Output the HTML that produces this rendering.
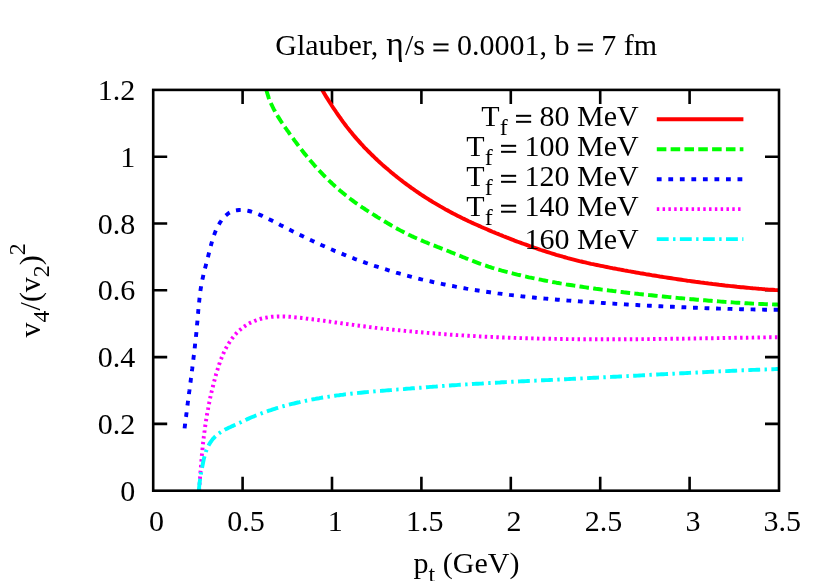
<!DOCTYPE html>
<html><head><meta charset="utf-8"><title>plot</title>
<style>html,body{margin:0;padding:0;background:#fff;overflow:hidden}body{width:830px;height:581px;position:relative;font-family:"Liberation Serif",serif}</style></head>
<body>
<svg width="830" height="581" viewBox="0 0 830 581" style="position:absolute;left:0;top:0;will-change:transform;font-family:'Liberation Serif',serif;font-size:30px">
<rect x="0" y="0" width="830" height="581" fill="#fff"/>
<g stroke="#000" stroke-width="2.6" fill="none" stroke-linecap="butt">
<path d="M242.6,490.7 V476.7 M242.6,89.9 V103.9"/>
<path d="M332.0,490.7 V476.7 M332.0,89.9 V103.9"/>
<path d="M421.4,490.7 V476.7 M421.4,89.9 V103.9"/>
<path d="M510.8,490.7 V476.7 M510.8,89.9 V103.9"/>
<path d="M600.2,490.7 V476.7 M600.2,89.9 V103.9"/>
<path d="M689.6,490.7 V476.7 M689.6,89.9 V103.9"/>
<path d="M153.2,423.9 H167.2 M779.0,423.9 H765.0"/>
<path d="M153.2,357.1 H167.2 M779.0,357.1 H765.0"/>
<path d="M153.2,290.3 H167.2 M779.0,290.3 H765.0"/>
<path d="M153.2,223.5 H167.2 M779.0,223.5 H765.0"/>
<path d="M153.2,156.7 H167.2 M779.0,156.7 H765.0"/>
</g>
<clipPath id="c"><rect x="153.2" y="89.9" width="625.8" height="400.79999999999995"/></clipPath>
<g fill="none" stroke-width="3.90" stroke-linejoin="round" clip-path="url(#c)">
<path d="M322.3,90.0 L323.3,91.7 L324.3,93.5 L325.3,95.2 L326.3,96.9 L327.4,98.6 L328.4,100.3 L329.5,102.0 L330.6,103.6 L331.6,105.3 L332.7,107.0 L333.8,108.7 L335.0,110.3 L336.1,112.0 L337.2,113.6 L338.4,115.3 L339.5,116.9 L340.7,118.5 L341.8,120.2 L343.0,121.8 L344.2,123.4 L345.4,125.0 L346.6,126.6 L347.8,128.1 L349.1,129.7 L350.3,131.3 L351.6,132.8 L352.9,134.4 L354.1,135.9 L355.4,137.4 L356.7,138.9 L358.1,140.4 L359.4,141.9 L360.7,143.4 L362.1,144.8 L363.4,146.3 L364.8,147.8 L366.2,149.2 L367.6,150.6 L369.0,152.0 L370.4,153.4 L371.8,154.8 L373.3,156.2 L374.7,157.6 L376.2,159.0 L377.6,160.4 L379.1,161.7 L380.6,163.1 L382.0,164.4 L383.5,165.7 L385.0,167.0 L386.5,168.3 L388.1,169.6 L389.6,170.9 L391.1,172.2 L392.7,173.5 L394.2,174.8 L395.8,176.0 L397.3,177.3 L398.9,178.5 L400.5,179.7 L402.1,180.9 L403.7,182.2 L405.3,183.4 L406.9,184.6 L408.5,185.7 L410.1,186.9 L411.7,188.1 L413.4,189.2 L415.0,190.4 L416.6,191.5 L418.3,192.6 L420.0,193.8 L421.6,194.9 L423.3,196.0 L425.0,197.1 L426.6,198.1 L428.3,199.2 L430.0,200.3 L431.7,201.3 L433.4,202.4 L435.2,203.4 L436.9,204.4 L438.6,205.4 L440.3,206.4 L442.1,207.4 L443.8,208.4 L445.5,209.4 L447.3,210.3 L449.0,211.3 L450.8,212.2 L452.6,213.2 L454.3,214.1 L456.1,215.0 L457.9,215.9 L459.7,216.8 L461.5,217.7 L463.2,218.6 L465.0,219.4 L466.8,220.3 L468.6,221.2 L470.5,222.0 L472.3,222.9 L474.1,223.7 L475.9,224.5 L477.7,225.3 L479.5,226.1 L481.4,227.0 L483.2,227.8 L485.0,228.5 L486.9,229.3 L488.7,230.1 L490.5,230.9 L492.4,231.7 L494.2,232.4 L496.1,233.2 L497.9,233.9 L499.8,234.7 L501.6,235.4 L503.5,236.2 L505.3,236.9 L507.2,237.7 L509.1,238.4 L510.9,239.1 L512.8,239.8 L514.6,240.6 L516.5,241.3 L518.4,242.0 L520.3,242.7 L522.1,243.4 L524.0,244.0 L525.9,244.7 L527.8,245.4 L529.7,246.1 L531.5,246.7 L533.4,247.4 L535.3,248.0 L537.2,248.7 L539.1,249.3 L541.0,250.0 L542.9,250.6 L544.8,251.2 L546.7,251.8 L548.6,252.4 L550.5,253.0 L552.4,253.6 L554.3,254.2 L556.2,254.8 L558.2,255.3 L560.1,255.9 L562.0,256.4 L563.9,257.0 L565.8,257.5 L567.8,258.1 L569.7,258.6 L571.6,259.1 L573.6,259.6 L575.5,260.1 L577.4,260.6 L579.4,261.1 L581.3,261.5 L583.2,262.0 L585.2,262.4 L587.1,262.9 L589.1,263.3 L591.0,263.8 L593.0,264.2 L594.9,264.6 L596.9,265.0 L598.8,265.4 L600.8,265.8 L602.8,266.2 L604.7,266.6 L606.7,267.0 L608.6,267.4 L610.6,267.8 L612.6,268.2 L614.5,268.5 L616.5,268.9 L618.4,269.3 L620.4,269.6 L622.4,270.0 L624.3,270.4 L626.3,270.7 L628.3,271.1 L630.2,271.4 L632.2,271.8 L634.2,272.1 L636.1,272.5 L638.1,272.8 L640.1,273.2 L642.1,273.5 L644.0,273.8 L646.0,274.2 L648.0,274.5 L649.9,274.8 L651.9,275.2 L653.9,275.5 L655.8,275.8 L657.8,276.1 L659.8,276.5 L661.8,276.8 L663.7,277.1 L665.7,277.4 L667.7,277.7 L669.7,278.0 L671.6,278.3 L673.6,278.6 L675.6,278.9 L677.6,279.2 L679.5,279.5 L681.5,279.8 L683.5,280.1 L685.5,280.4 L687.4,280.7 L689.4,280.9 L691.4,281.2 L693.4,281.5 L695.4,281.8 L697.3,282.0 L699.3,282.3 L701.3,282.6 L703.3,282.8 L705.3,283.1 L707.2,283.3 L709.2,283.6 L711.2,283.8 L713.2,284.1 L715.2,284.3 L717.1,284.5 L719.1,284.8 L721.1,285.0 L723.1,285.2 L725.1,285.5 L727.1,285.7 L729.0,285.9 L731.0,286.1 L733.0,286.3 L735.0,286.5 L737.0,286.8 L739.0,287.0 L741.0,287.2 L743.0,287.3 L744.9,287.5 L746.9,287.7 L748.9,287.9 L750.9,288.1 L752.9,288.3 L754.9,288.4 L756.9,288.6 L758.9,288.8 L760.9,288.9 L762.9,289.1 L764.8,289.3 L766.8,289.4 L768.8,289.6 L770.8,289.7 L772.8,289.8 L774.8,290.0 L776.8,290.1 L778.8,290.2" stroke="#ff0000"/>
<path d="M266.4,90.0 L266.9,92.0 L267.5,94.0 L268.1,95.9 L268.7,97.8 L269.4,99.7 L270.2,101.5 L271.0,103.4 L271.8,105.2 L272.7,107.0 L273.6,108.8 L274.5,110.5 L275.4,112.2 L276.4,114.0 L277.5,115.7 L278.5,117.4 L279.6,119.1 L280.6,120.7 L281.7,122.4 L282.9,124.0 L284.0,125.7 L285.1,127.3 L286.3,129.0 L287.4,130.6 L288.6,132.2 L289.7,133.9 L290.9,135.5 L292.1,137.1 L293.3,138.7 L294.4,140.3 L295.6,141.9 L296.8,143.5 L298.0,145.1 L299.2,146.7 L300.4,148.3 L301.7,149.9 L302.9,151.5 L304.1,153.1 L305.4,154.6 L306.7,156.2 L307.9,157.7 L309.2,159.2 L310.5,160.8 L311.8,162.3 L313.1,163.8 L314.4,165.3 L315.8,166.8 L317.1,168.3 L318.4,169.7 L319.8,171.2 L321.2,172.6 L322.6,174.1 L323.9,175.5 L325.3,176.9 L326.8,178.3 L328.2,179.7 L329.6,181.1 L331.1,182.5 L332.5,183.9 L334.0,185.2 L335.4,186.6 L336.9,187.9 L338.4,189.2 L339.9,190.5 L341.5,191.8 L343.0,193.1 L344.5,194.3 L346.1,195.6 L347.7,196.8 L349.2,198.0 L350.8,199.2 L352.4,200.4 L354.0,201.6 L355.7,202.8 L357.3,203.9 L358.9,205.1 L360.6,206.2 L362.2,207.3 L363.9,208.4 L365.6,209.6 L367.2,210.6 L368.9,211.7 L370.6,212.8 L372.3,213.9 L374.0,214.9 L375.7,216.0 L377.4,217.1 L379.1,218.1 L380.8,219.1 L382.5,220.2 L384.3,221.2 L386.0,222.2 L387.7,223.3 L389.4,224.3 L391.1,225.3 L392.9,226.3 L394.6,227.3 L396.3,228.2 L398.1,229.2 L399.8,230.1 L401.6,231.1 L403.4,232.0 L405.1,232.9 L406.9,233.8 L408.7,234.7 L410.5,235.5 L412.3,236.4 L414.1,237.2 L415.9,238.0 L417.8,238.8 L419.6,239.6 L421.4,240.4 L423.3,241.2 L425.1,242.0 L427.0,242.7 L428.8,243.5 L430.7,244.2 L432.5,245.0 L434.4,245.7 L436.2,246.4 L438.1,247.2 L440.0,247.9 L441.8,248.6 L443.7,249.3 L445.6,250.1 L447.4,250.8 L449.3,251.5 L451.1,252.3 L453.0,253.0 L454.8,253.8 L456.7,254.5 L458.6,255.3 L460.4,256.0 L462.2,256.8 L464.1,257.5 L465.9,258.3 L467.8,259.0 L469.6,259.8 L471.5,260.5 L473.4,261.2 L475.2,261.9 L477.1,262.6 L479.0,263.3 L480.8,264.0 L482.7,264.7 L484.6,265.3 L486.5,265.9 L488.4,266.6 L490.3,267.2 L492.2,267.8 L494.1,268.3 L496.0,268.9 L497.9,269.5 L499.9,270.0 L501.8,270.6 L503.7,271.1 L505.6,271.6 L507.6,272.1 L509.5,272.6 L511.4,273.1 L513.4,273.6 L515.3,274.1 L517.3,274.6 L519.2,275.0 L521.1,275.5 L523.1,276.0 L525.0,276.4 L527.0,276.8 L528.9,277.3 L530.9,277.7 L532.8,278.1 L534.8,278.5 L536.8,278.9 L538.7,279.3 L540.7,279.7 L542.6,280.1 L544.6,280.5 L546.6,280.9 L548.5,281.3 L550.5,281.6 L552.4,282.0 L554.4,282.3 L556.4,282.7 L558.3,283.0 L560.3,283.4 L562.3,283.7 L564.2,284.0 L566.2,284.4 L568.2,284.7 L570.2,285.0 L572.1,285.3 L574.1,285.6 L576.1,285.9 L578.0,286.2 L580.0,286.5 L582.0,286.8 L584.0,287.1 L585.9,287.4 L587.9,287.7 L589.9,287.9 L591.9,288.2 L593.9,288.5 L595.8,288.8 L597.8,289.0 L599.8,289.3 L601.8,289.6 L603.8,289.8 L605.7,290.1 L607.7,290.3 L609.7,290.6 L611.7,290.8 L613.7,291.1 L615.6,291.3 L617.6,291.6 L619.6,291.8 L621.6,292.0 L623.6,292.3 L625.6,292.5 L627.5,292.7 L629.5,293.0 L631.5,293.2 L633.5,293.4 L635.5,293.6 L637.5,293.8 L639.4,294.1 L641.4,294.3 L643.4,294.5 L645.4,294.7 L647.4,294.9 L649.4,295.1 L651.4,295.3 L653.3,295.5 L655.3,295.7 L657.3,295.9 L659.3,296.1 L661.3,296.3 L663.3,296.5 L665.3,296.7 L667.3,296.9 L669.2,297.1 L671.2,297.3 L673.2,297.5 L675.2,297.7 L677.2,297.9 L679.2,298.1 L681.2,298.2 L683.2,298.4 L685.2,298.6 L687.1,298.8 L689.1,299.0 L691.1,299.2 L693.1,299.3 L695.1,299.5 L697.1,299.7 L699.1,299.8 L701.1,300.0 L703.1,300.2 L705.0,300.3 L707.0,300.5 L709.0,300.7 L711.0,300.8 L713.0,301.0 L715.0,301.1 L717.0,301.3 L719.0,301.4 L721.0,301.6 L723.0,301.7 L724.9,301.9 L726.9,302.0 L728.9,302.2 L730.9,302.3 L732.9,302.4 L734.9,302.6 L736.9,302.7 L738.9,302.8 L740.9,302.9 L742.9,303.0 L744.9,303.2 L746.9,303.3 L748.9,303.4 L750.9,303.5 L752.8,303.6 L754.8,303.7 L756.8,303.8 L758.8,303.9 L760.8,304.0 L762.8,304.0 L764.8,304.1 L766.8,304.2 L768.8,304.3 L770.8,304.3 L772.8,304.4 L774.8,304.5 L776.8,304.5 L778.8,304.6" stroke="#00ff00" stroke-dasharray="9.56 4.265"/>
<path d="M184.6,428.4 L184.8,426.4 L185.1,424.4 L185.3,422.5 L185.6,420.5 L185.8,418.5 L186.1,416.5 L186.3,414.5 L186.6,412.5 L186.8,410.6 L187.1,408.6 L187.3,406.6 L187.6,404.6 L187.8,402.6 L188.1,400.7 L188.4,398.7 L188.6,396.7 L188.9,394.7 L189.1,392.7 L189.4,390.8 L189.6,388.8 L189.9,386.8 L190.2,384.8 L190.4,382.8 L190.7,380.9 L190.9,378.9 L191.2,376.9 L191.4,374.9 L191.7,372.9 L191.9,371.0 L192.2,369.0 L192.4,367.0 L192.7,365.0 L192.9,363.0 L193.2,361.1 L193.4,359.1 L193.6,357.1 L193.9,355.1 L194.1,353.1 L194.3,351.1 L194.6,349.2 L194.8,347.2 L195.0,345.2 L195.2,343.2 L195.4,341.2 L195.6,339.2 L195.9,337.2 L196.1,335.3 L196.3,333.3 L196.5,331.3 L196.7,329.3 L196.9,327.3 L197.0,325.3 L197.2,323.3 L197.4,321.3 L197.6,319.3 L197.7,317.4 L197.9,315.4 L198.1,313.4 L198.2,311.4 L198.4,309.4 L198.6,307.4 L198.8,305.4 L199.0,303.4 L199.2,301.4 L199.4,299.4 L199.6,297.5 L199.8,295.5 L200.1,293.5 L200.3,291.5 L200.6,289.5 L200.9,287.6 L201.2,285.6 L201.6,283.7 L202.0,281.7 L202.3,279.8 L202.8,277.8 L203.2,275.9 L203.6,273.9 L204.1,272.0 L204.6,270.0 L205.1,268.1 L205.6,266.2 L206.1,264.2 L206.6,262.3 L207.1,260.4 L207.6,258.4 L208.1,256.5 L208.6,254.5 L209.1,252.6 L209.6,250.6 L210.1,248.7 L210.6,246.8 L211.1,244.8 L211.6,242.9 L212.2,241.0 L212.7,239.1 L213.4,237.2 L214.0,235.3 L214.7,233.4 L215.4,231.6 L216.2,229.7 L217.0,227.9 L217.9,226.1 L218.9,224.4 L219.9,222.7 L221.1,221.0 L222.2,219.3 L223.5,217.7 L224.9,216.2 L226.4,214.9 L227.9,213.7 L229.6,212.6 L231.4,211.8 L233.3,211.1 L235.2,210.5 L237.1,210.2 L239.1,210.0 L241.1,209.9 L243.0,210.0 L245.0,210.2 L247.0,210.6 L248.9,211.0 L250.9,211.5 L252.8,212.1 L254.7,212.8 L256.6,213.5 L258.5,214.3 L260.4,215.1 L262.3,215.9 L264.1,216.8 L265.9,217.6 L267.7,218.5 L269.5,219.4 L271.3,220.3 L273.1,221.2 L274.8,222.1 L276.6,223.0 L278.4,223.9 L280.1,224.9 L281.9,225.8 L283.6,226.7 L285.4,227.6 L287.2,228.5 L288.9,229.4 L290.7,230.3 L292.5,231.2 L294.3,232.1 L296.1,233.0 L297.8,233.9 L299.6,234.8 L301.4,235.6 L303.2,236.5 L305.0,237.4 L306.8,238.2 L308.6,239.1 L310.4,239.9 L312.2,240.8 L314.0,241.6 L315.8,242.5 L317.7,243.3 L319.5,244.1 L321.3,245.0 L323.1,245.8 L324.9,246.6 L326.8,247.4 L328.6,248.2 L330.4,249.0 L332.3,249.8 L334.1,250.6 L336.0,251.3 L337.8,252.1 L339.7,252.9 L341.5,253.6 L343.4,254.4 L345.2,255.1 L347.1,255.9 L348.9,256.6 L350.8,257.3 L352.7,258.0 L354.5,258.8 L356.4,259.5 L358.3,260.2 L360.1,260.8 L362.0,261.5 L363.9,262.2 L365.8,262.9 L367.7,263.5 L369.6,264.2 L371.4,264.8 L373.3,265.5 L375.2,266.1 L377.1,266.7 L379.0,267.3 L380.9,267.9 L382.8,268.6 L384.7,269.1 L386.6,269.7 L388.6,270.3 L390.5,270.9 L392.4,271.5 L394.3,272.0 L396.2,272.6 L398.1,273.1 L400.1,273.7 L402.0,274.2 L403.9,274.8 L405.8,275.3 L407.8,275.8 L409.7,276.3 L411.6,276.8 L413.5,277.3 L415.5,277.8 L417.4,278.3 L419.4,278.8 L421.3,279.3 L423.2,279.7 L425.2,280.2 L427.1,280.6 L429.1,281.1 L431.0,281.5 L433.0,282.0 L434.9,282.4 L436.9,282.8 L438.8,283.3 L440.8,283.7 L442.7,284.1 L444.7,284.5 L446.6,284.9 L448.6,285.3 L450.6,285.7 L452.5,286.0 L454.5,286.4 L456.4,286.8 L458.4,287.2 L460.4,287.5 L462.3,287.9 L464.3,288.2 L466.3,288.6 L468.2,288.9 L470.2,289.2 L472.2,289.6 L474.1,289.9 L476.1,290.2 L478.1,290.5 L480.0,290.8 L482.0,291.1 L484.0,291.4 L486.0,291.7 L487.9,292.0 L489.9,292.3 L491.9,292.6 L493.9,292.8 L495.9,293.1 L497.8,293.4 L499.8,293.6 L501.8,293.9 L503.8,294.2 L505.8,294.4 L507.7,294.6 L509.7,294.9 L511.7,295.1 L513.7,295.4 L515.7,295.6 L517.6,295.8 L519.6,296.0 L521.6,296.3 L523.6,296.5 L525.6,296.7 L527.6,296.9 L529.6,297.1 L531.5,297.3 L533.5,297.5 L535.5,297.7 L537.5,297.9 L539.5,298.1 L541.5,298.3 L543.5,298.5 L545.5,298.6 L547.5,298.8 L549.4,299.0 L551.4,299.2 L553.4,299.3 L555.4,299.5 L557.4,299.7 L559.4,299.8 L561.4,300.0 L563.4,300.2 L565.4,300.3 L567.4,300.5 L569.4,300.6 L571.4,300.8 L573.3,300.9 L575.3,301.1 L577.3,301.2 L579.3,301.4 L581.3,301.5 L583.3,301.7 L585.3,301.8 L587.3,301.9 L589.3,302.1 L591.3,302.2 L593.3,302.3 L595.3,302.5 L597.3,302.6 L599.3,302.7 L601.2,302.9 L603.2,303.0 L605.2,303.1 L607.2,303.3 L609.2,303.4 L611.2,303.5 L613.2,303.6 L615.2,303.8 L617.2,303.9 L619.2,304.0 L621.2,304.1 L623.2,304.2 L625.2,304.4 L627.2,304.5 L629.2,304.6 L631.1,304.7 L633.1,304.8 L635.1,304.9 L637.1,305.0 L639.1,305.2 L641.1,305.3 L643.1,305.4 L645.1,305.5 L647.1,305.6 L649.1,305.7 L651.1,305.8 L653.1,305.9 L655.1,306.0 L657.1,306.1 L659.1,306.2 L661.0,306.3 L663.0,306.4 L665.0,306.5 L667.0,306.6 L669.0,306.7 L671.0,306.7 L673.0,306.8 L675.0,306.9 L677.0,307.0 L679.0,307.1 L681.0,307.2 L683.0,307.3 L685.0,307.3 L687.0,307.4 L689.0,307.5 L691.0,307.6 L693.0,307.7 L694.9,307.7 L696.9,307.8 L698.9,307.9 L700.9,308.0 L702.9,308.0 L704.9,308.1 L706.9,308.2 L708.9,308.2 L710.9,308.3 L712.9,308.4 L714.9,308.4 L716.9,308.5 L718.9,308.6 L720.9,308.6 L722.9,308.7 L724.9,308.7 L726.9,308.8 L728.9,308.9 L730.9,308.9 L732.9,309.0 L734.9,309.0 L736.9,309.1 L738.9,309.1 L740.8,309.2 L742.8,309.2 L744.8,309.3 L746.8,309.3 L748.8,309.4 L750.8,309.4 L752.8,309.4 L754.8,309.5 L756.8,309.5 L758.8,309.6 L760.8,309.6 L762.8,309.6 L764.8,309.7 L766.8,309.7 L768.8,309.7 L770.8,309.8 L772.8,309.8 L774.8,309.8 L776.8,309.8 L778.8,309.9" stroke="#0000ff" stroke-dasharray="4.8 6.73"/>
<path d="M199.1,490.6 L199.2,488.6 L199.4,486.6 L199.5,484.6 L199.7,482.6 L199.8,480.6 L200.0,478.6 L200.1,476.6 L200.3,474.7 L200.4,472.7 L200.6,470.7 L200.7,468.7 L200.9,466.7 L201.1,464.7 L201.2,462.7 L201.4,460.7 L201.6,458.7 L201.7,456.7 L201.9,454.7 L202.1,452.7 L202.3,450.7 L202.5,448.7 L202.7,446.7 L202.9,444.7 L203.1,442.8 L203.4,440.8 L203.6,438.8 L203.8,436.8 L204.1,434.8 L204.3,432.8 L204.6,430.8 L204.8,428.9 L205.1,426.9 L205.4,424.9 L205.7,422.9 L206.0,420.9 L206.3,419.0 L206.6,417.0 L206.9,415.0 L207.3,413.1 L207.6,411.1 L208.0,409.1 L208.3,407.2 L208.7,405.2 L209.1,403.3 L209.5,401.3 L209.9,399.4 L210.3,397.4 L210.7,395.5 L211.2,393.5 L211.6,391.6 L212.1,389.6 L212.6,387.7 L213.1,385.8 L213.5,383.8 L214.0,381.9 L214.6,379.9 L215.1,378.0 L215.6,376.1 L216.1,374.1 L216.7,372.2 L217.3,370.3 L217.9,368.3 L218.5,366.4 L219.1,364.5 L219.8,362.6 L220.4,360.7 L221.2,358.8 L221.9,357.0 L222.7,355.1 L223.5,353.3 L224.3,351.4 L225.2,349.6 L226.1,347.9 L227.1,346.1 L228.1,344.4 L229.2,342.7 L230.3,341.0 L231.5,339.3 L232.7,337.7 L233.9,336.2 L235.2,334.6 L236.5,333.2 L237.9,331.8 L239.4,330.4 L240.9,329.1 L242.4,327.8 L244.0,326.7 L245.6,325.6 L247.3,324.5 L249.0,323.5 L250.8,322.6 L252.6,321.8 L254.4,321.0 L256.3,320.3 L258.1,319.6 L260.0,319.0 L261.9,318.5 L263.9,318.0 L265.8,317.7 L267.8,317.3 L269.7,317.1 L271.7,316.8 L273.7,316.7 L275.7,316.6 L277.7,316.5 L279.7,316.5 L281.7,316.5 L283.7,316.5 L285.8,316.6 L287.8,316.7 L289.8,316.8 L291.8,317.0 L293.9,317.2 L295.9,317.4 L297.9,317.6 L299.9,317.8 L301.9,318.0 L304.0,318.2 L306.0,318.5 L308.0,318.7 L310.0,319.0 L312.0,319.2 L313.9,319.5 L315.9,319.7 L317.9,320.0 L319.9,320.3 L321.9,320.5 L323.9,320.8 L325.9,321.1 L327.8,321.4 L329.8,321.6 L331.8,321.9 L333.8,322.2 L335.7,322.5 L337.7,322.8 L339.7,323.0 L341.6,323.3 L343.6,323.6 L345.6,323.9 L347.6,324.1 L349.5,324.4 L351.5,324.7 L353.5,324.9 L355.5,325.2 L357.4,325.5 L359.4,325.7 L361.4,326.0 L363.4,326.2 L365.3,326.5 L367.3,326.7 L369.3,327.0 L371.3,327.2 L373.3,327.4 L375.2,327.7 L377.2,327.9 L379.2,328.1 L381.2,328.4 L383.2,328.6 L385.2,328.8 L387.2,329.0 L389.1,329.2 L391.1,329.5 L393.1,329.7 L395.1,329.9 L397.1,330.1 L399.1,330.3 L401.1,330.5 L403.1,330.7 L405.0,330.9 L407.0,331.1 L409.0,331.3 L411.0,331.4 L413.0,331.6 L415.0,331.8 L417.0,332.0 L419.0,332.2 L421.0,332.3 L423.0,332.5 L425.0,332.7 L427.0,332.9 L429.0,333.0 L431.0,333.2 L432.9,333.3 L434.9,333.5 L436.9,333.7 L438.9,333.8 L440.9,334.0 L442.9,334.1 L444.9,334.2 L446.9,334.4 L448.9,334.5 L450.9,334.7 L452.9,334.8 L454.9,334.9 L456.9,335.1 L458.9,335.2 L460.9,335.3 L462.9,335.4 L464.9,335.6 L466.9,335.7 L468.9,335.8 L470.9,335.9 L472.9,336.0 L474.9,336.1 L476.9,336.3 L478.9,336.4 L480.9,336.5 L482.9,336.6 L484.9,336.7 L486.9,336.8 L488.9,336.9 L490.9,336.9 L492.9,337.0 L494.9,337.1 L496.9,337.2 L498.9,337.3 L500.9,337.4 L502.9,337.5 L504.9,337.5 L506.9,337.6 L508.9,337.7 L510.9,337.8 L512.9,337.8 L514.9,337.9 L516.9,338.0 L518.9,338.0 L520.9,338.1 L522.8,338.2 L524.8,338.2 L526.8,338.3 L528.8,338.3 L530.8,338.4 L532.8,338.4 L534.8,338.5 L536.8,338.5 L538.8,338.6 L540.8,338.6 L542.8,338.7 L544.8,338.7 L546.8,338.7 L548.8,338.8 L550.8,338.8 L552.8,338.9 L554.8,338.9 L556.8,338.9 L558.8,339.0 L560.8,339.0 L562.8,339.0 L564.8,339.0 L566.8,339.1 L568.8,339.1 L570.8,339.1 L572.8,339.1 L574.8,339.2 L576.8,339.2 L578.8,339.2 L580.8,339.2 L582.8,339.2 L584.8,339.2 L586.8,339.2 L588.8,339.3 L590.8,339.3 L592.8,339.3 L594.8,339.3 L596.8,339.3 L598.8,339.3 L600.8,339.3 L602.8,339.3 L604.8,339.3 L606.8,339.3 L608.8,339.3 L610.8,339.3 L612.8,339.3 L614.8,339.3 L616.8,339.3 L618.8,339.3 L620.8,339.3 L622.8,339.3 L624.8,339.2 L626.8,339.2 L628.8,339.2 L630.8,339.2 L632.8,339.2 L634.8,339.2 L636.8,339.2 L638.8,339.2 L640.8,339.1 L642.8,339.1 L644.8,339.1 L646.8,339.1 L648.8,339.1 L650.8,339.1 L652.8,339.0 L654.8,339.0 L656.8,339.0 L658.8,339.0 L660.8,338.9 L662.8,338.9 L664.8,338.9 L666.8,338.9 L668.8,338.8 L670.8,338.8 L672.8,338.8 L674.8,338.8 L676.8,338.7 L678.8,338.7 L680.8,338.7 L682.8,338.7 L684.8,338.6 L686.8,338.6 L688.8,338.6 L690.8,338.5 L692.8,338.5 L694.8,338.5 L696.8,338.5 L698.8,338.4 L700.8,338.4 L702.8,338.4 L704.8,338.3 L706.8,338.3 L708.8,338.3 L710.8,338.2 L712.8,338.2 L714.8,338.2 L716.8,338.1 L718.8,338.1 L720.8,338.1 L722.8,338.0 L724.8,338.0 L726.8,338.0 L728.8,337.9 L730.8,337.9 L732.8,337.9 L734.8,337.8 L736.8,337.8 L738.8,337.8 L740.8,337.7 L742.8,337.7 L744.8,337.7 L746.8,337.7 L748.8,337.6 L750.8,337.6 L752.8,337.6 L754.8,337.5 L756.8,337.5 L758.8,337.5 L760.8,337.4 L762.8,337.4 L764.8,337.4 L766.8,337.3 L768.8,337.3 L770.8,337.3 L772.8,337.3 L774.8,337.2 L776.8,337.2 L778.8,337.2" stroke="#ff00ff" stroke-dasharray="2.45 3.356"/>
<path d="M198.9,490.6 L199.0,488.6 L199.2,486.6 L199.4,484.6 L199.6,482.6 L199.9,480.7 L200.2,478.7 L200.5,476.8 L200.8,474.8 L201.1,472.8 L201.5,470.9 L201.8,468.9 L202.2,467.0 L202.6,465.0 L203.0,463.0 L203.4,461.1 L203.8,459.1 L204.3,457.2 L204.8,455.2 L205.4,453.3 L206.0,451.4 L206.7,449.5 L207.5,447.7 L208.4,445.9 L209.3,444.1 L210.4,442.4 L211.5,440.8 L212.7,439.2 L214.0,437.8 L215.4,436.3 L216.8,435.0 L218.4,433.8 L220.0,432.7 L221.7,431.6 L223.4,430.6 L225.1,429.6 L226.9,428.7 L228.7,427.8 L230.5,427.0 L232.4,426.1 L234.2,425.3 L236.0,424.5 L237.8,423.6 L239.6,422.8 L241.4,422.0 L243.2,421.1 L245.0,420.3 L246.8,419.4 L248.6,418.6 L250.4,417.8 L252.2,417.0 L254.1,416.3 L255.9,415.5 L257.8,414.8 L259.6,414.1 L261.5,413.4 L263.3,412.7 L265.2,412.0 L267.1,411.3 L269.0,410.7 L270.9,410.1 L272.8,409.4 L274.7,408.8 L276.6,408.2 L278.5,407.7 L280.4,407.1 L282.3,406.5 L284.2,406.0 L286.2,405.5 L288.1,404.9 L290.0,404.4 L292.0,403.9 L293.9,403.5 L295.8,403.0 L297.8,402.5 L299.7,402.1 L301.6,401.6 L303.6,401.2 L305.5,400.8 L307.5,400.4 L309.5,400.0 L311.4,399.6 L313.4,399.2 L315.3,398.9 L317.3,398.5 L319.3,398.2 L321.2,397.8 L323.2,397.5 L325.2,397.2 L327.1,396.9 L329.1,396.6 L331.1,396.3 L333.0,396.0 L335.0,395.7 L337.0,395.4 L339.0,395.2 L340.9,394.9 L342.9,394.7 L344.9,394.4 L346.9,394.2 L348.9,394.0 L350.8,393.7 L352.8,393.5 L354.8,393.3 L356.8,393.1 L358.8,392.9 L360.8,392.7 L362.7,392.5 L364.7,392.3 L366.7,392.1 L368.7,391.9 L370.7,391.7 L372.7,391.6 L374.7,391.4 L376.6,391.2 L378.6,391.0 L380.6,390.9 L382.6,390.7 L384.6,390.6 L386.6,390.4 L388.6,390.2 L390.6,390.1 L392.5,389.9 L394.5,389.7 L396.5,389.6 L398.5,389.4 L400.5,389.3 L402.5,389.1 L404.5,389.0 L406.5,388.8 L408.5,388.6 L410.4,388.5 L412.4,388.3 L414.4,388.2 L416.4,388.0 L418.4,387.8 L420.4,387.7 L422.4,387.5 L424.4,387.4 L426.3,387.2 L428.3,387.1 L430.3,386.9 L432.3,386.8 L434.3,386.6 L436.3,386.5 L438.3,386.3 L440.3,386.2 L442.2,386.0 L444.2,385.9 L446.2,385.7 L448.2,385.6 L450.2,385.5 L452.2,385.3 L454.2,385.2 L456.2,385.1 L458.2,384.9 L460.1,384.8 L462.1,384.7 L464.1,384.5 L466.1,384.4 L468.1,384.3 L470.1,384.2 L472.1,384.0 L474.1,383.9 L476.1,383.8 L478.1,383.7 L480.0,383.6 L482.0,383.5 L484.0,383.3 L486.0,383.2 L488.0,383.1 L490.0,383.0 L492.0,382.9 L494.0,382.8 L496.0,382.7 L498.0,382.6 L500.0,382.5 L501.9,382.3 L503.9,382.2 L505.9,382.1 L507.9,382.0 L509.9,381.9 L511.9,381.8 L513.9,381.7 L515.9,381.6 L517.9,381.5 L519.9,381.4 L521.9,381.3 L523.9,381.2 L525.8,381.1 L527.8,381.0 L529.8,380.9 L531.8,380.8 L533.8,380.7 L535.8,380.6 L537.8,380.5 L539.8,380.4 L541.8,380.3 L543.8,380.2 L545.8,380.1 L547.8,380.1 L549.7,380.0 L551.7,379.9 L553.7,379.8 L555.7,379.7 L557.7,379.6 L559.7,379.5 L561.7,379.4 L563.7,379.3 L565.7,379.2 L567.7,379.1 L569.7,379.0 L571.7,378.9 L573.7,378.8 L575.6,378.7 L577.6,378.6 L579.6,378.5 L581.6,378.4 L583.6,378.3 L585.6,378.2 L587.6,378.1 L589.6,378.0 L591.6,377.9 L593.6,377.8 L595.6,377.7 L597.6,377.6 L599.5,377.5 L601.5,377.4 L603.5,377.3 L605.5,377.2 L607.5,377.1 L609.5,377.0 L611.5,376.9 L613.5,376.8 L615.5,376.7 L617.5,376.6 L619.5,376.5 L621.5,376.4 L623.4,376.3 L625.4,376.2 L627.4,376.1 L629.4,376.0 L631.4,375.9 L633.4,375.8 L635.4,375.7 L637.4,375.6 L639.4,375.5 L641.4,375.4 L643.4,375.3 L645.3,375.2 L647.3,375.1 L649.3,374.9 L651.3,374.8 L653.3,374.7 L655.3,374.6 L657.3,374.5 L659.3,374.4 L661.3,374.3 L663.3,374.2 L665.3,374.1 L667.2,374.0 L669.2,373.9 L671.2,373.8 L673.2,373.7 L675.2,373.6 L677.2,373.5 L679.2,373.4 L681.2,373.3 L683.2,373.2 L685.2,373.1 L687.2,373.0 L689.2,372.9 L691.1,372.8 L693.1,372.7 L695.1,372.6 L697.1,372.5 L699.1,372.4 L701.1,372.3 L703.1,372.2 L705.1,372.1 L707.1,372.0 L709.1,371.9 L711.1,371.8 L713.1,371.7 L715.0,371.6 L717.0,371.5 L719.0,371.4 L721.0,371.3 L723.0,371.2 L725.0,371.1 L727.0,371.1 L729.0,371.0 L731.0,370.9 L733.0,370.8 L735.0,370.7 L737.0,370.6 L738.9,370.5 L740.9,370.4 L742.9,370.3 L744.9,370.3 L746.9,370.2 L748.9,370.1 L750.9,370.0 L752.9,369.9 L754.9,369.9 L756.9,369.8 L758.9,369.7 L760.9,369.6 L762.9,369.5 L764.9,369.5 L766.8,369.4 L768.8,369.3 L770.8,369.2 L772.8,369.2 L774.8,369.1 L776.8,369.0 L778.8,369.0" stroke="#00ffff" stroke-dasharray="11.88 4.39 2.4 4.39"/>
</g>
<g fill="none" stroke-width="3.90">
<path d="M656.8,119.2 L743.4,119.2" stroke="#ff0000"/>
<path d="M656.8,149.2 L743.4,149.2" stroke="#00ff00" stroke-dasharray="9.56 4.265"/>
<path d="M656.8,179.2 L743.4,179.2" stroke="#0000ff" stroke-dasharray="4.8 6.73"/>
<path d="M656.8,209.1 L743.4,209.1" stroke="#ff00ff" stroke-dasharray="2.45 3.356"/>
<path d="M656.8,239.1 L743.4,239.1" stroke="#00ffff" stroke-dasharray="11.88 4.39 2.4 4.39"/>
</g>
<text x="481.31" y="126.40" font-size="30" xml:space="preserve">T</text>
<text x="499.64" y="135.40" font-size="24" xml:space="preserve">f</text>
<text x="507.63" y="126.40" font-size="30" xml:space="preserve"> </text>
<rect x="516.03" y="114.82" width="15.12" height="1.98"/><rect x="516.03" y="120.82" width="15.12" height="1.98"/>
<text x="532.05" y="126.40" font-size="30" xml:space="preserve"> 80 MeV</text>
<text x="466.31" y="156.40" font-size="30" xml:space="preserve">T</text>
<text x="484.64" y="165.40" font-size="24" xml:space="preserve">f</text>
<text x="492.63" y="156.40" font-size="30" xml:space="preserve"> </text>
<rect x="501.03" y="144.82" width="15.12" height="1.98"/><rect x="501.03" y="150.82" width="15.12" height="1.98"/>
<text x="517.05" y="156.40" font-size="30" xml:space="preserve"> 100 MeV</text>
<text x="466.31" y="186.40" font-size="30" xml:space="preserve">T</text>
<text x="484.64" y="195.40" font-size="24" xml:space="preserve">f</text>
<text x="492.63" y="186.40" font-size="30" xml:space="preserve"> </text>
<rect x="501.03" y="174.82" width="15.12" height="1.98"/><rect x="501.03" y="180.82" width="15.12" height="1.98"/>
<text x="517.05" y="186.40" font-size="30" xml:space="preserve"> 120 MeV</text>
<text x="466.31" y="216.30" font-size="30" xml:space="preserve">T</text>
<text x="484.64" y="225.30" font-size="24" xml:space="preserve">f</text>
<text x="492.63" y="216.30" font-size="30" xml:space="preserve"> </text>
<rect x="501.03" y="204.72" width="15.12" height="1.98"/><rect x="501.03" y="210.72" width="15.12" height="1.98"/>
<text x="517.05" y="216.30" font-size="30" xml:space="preserve"> 140 MeV</text>
<text x="524.55" y="249.10" font-size="30" xml:space="preserve">160 MeV</text>
<text x="149.00" y="531.30" font-size="30" xml:space="preserve">0</text>
<text x="227.15" y="531.30" font-size="30" xml:space="preserve">0.5</text>
<text x="327.80" y="531.30" font-size="30" xml:space="preserve">1</text>
<text x="405.95" y="531.30" font-size="30" xml:space="preserve">1.5</text>
<text x="506.60" y="531.30" font-size="30" xml:space="preserve">2</text>
<text x="584.75" y="531.30" font-size="30" xml:space="preserve">2.5</text>
<text x="685.40" y="531.30" font-size="30" xml:space="preserve">3</text>
<text x="763.55" y="531.30" font-size="30" xml:space="preserve">3.5</text>
<text x="120.20" y="500.80" font-size="30" xml:space="preserve">0</text>
<text x="97.70" y="434.00" font-size="30" xml:space="preserve">0.2</text>
<text x="97.70" y="367.20" font-size="30" xml:space="preserve">0.4</text>
<text x="97.70" y="300.40" font-size="30" xml:space="preserve">0.6</text>
<text x="97.70" y="233.60" font-size="30" xml:space="preserve">0.8</text>
<text x="120.20" y="166.80" font-size="30" xml:space="preserve">1</text>
<text x="97.70" y="100.00" font-size="30" xml:space="preserve">1.2</text>
<text x="275.25" y="55.00" font-size="30" xml:space="preserve">Glauber, </text>
<text x="386.28" y="55.00" font-size="33.5">η</text>
<text x="404.97" y="55.00" font-size="30" xml:space="preserve">/s </text>
<rect x="433.38" y="43.42" width="15.12" height="1.98"/><rect x="433.38" y="49.42" width="15.12" height="1.98"/>
<text x="449.40" y="55.00" font-size="30" xml:space="preserve"> 0.0001, b </text>
<rect x="577.80" y="43.42" width="15.12" height="1.98"/><rect x="577.80" y="49.42" width="15.12" height="1.98"/>
<text x="593.82" y="55.00" font-size="30" xml:space="preserve"> 7 fm</text>
<text x="413.60" y="573.00" font-size="30" xml:space="preserve">p</text>
<text x="428.60" y="582.00" font-size="24" xml:space="preserve">t</text>
<text x="435.28" y="573.00" font-size="30" xml:space="preserve"> (GeV)</text>
<g transform="translate(40.3,290.3) rotate(-90)">
<text x="-47.16" y="0.00" font-size="30" xml:space="preserve">v</text>
<text x="-32.16" y="9.00" font-size="24" xml:space="preserve">4</text>
<text x="-20.16" y="0.00" font-size="30" xml:space="preserve">/(v</text>
<text x="13.17" y="9.00" font-size="24" xml:space="preserve">2</text>
<text x="25.17" y="0.00" font-size="30" xml:space="preserve">)</text>
<text x="35.16" y="-15.00" font-size="24" xml:space="preserve">2</text>
</g>
<rect x="153.2" y="89.9" width="625.8" height="400.79999999999995" stroke="#000" stroke-width="2.6" fill="none" stroke-linejoin="miter"/>
</svg>
</body></html>
